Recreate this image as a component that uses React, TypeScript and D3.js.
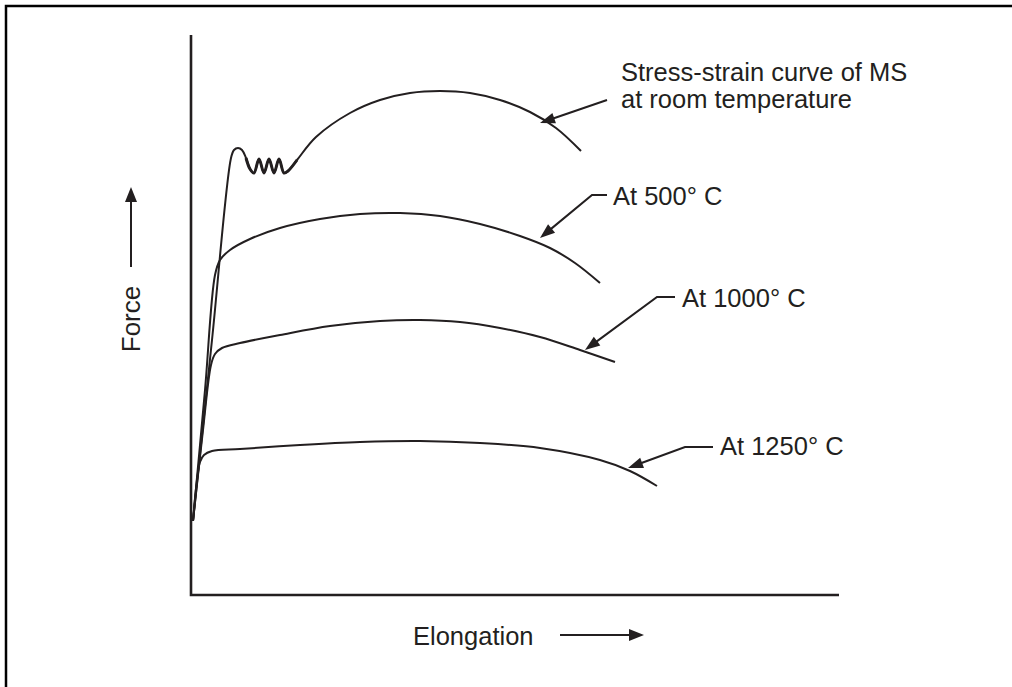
import React from "react";
import * as d3 from "d3";

// Data in chart units: x = elongation offset, y = force offset (arbitrary units)
type P = [number, number];

const roomTemp: P[] = [
  [2, 74], [21, 255], [40, 437], [43, 445], [47, 447], [51, 445], [55, 437], [59, 426],
  [63, 422], [68, 436], [73, 422], [78, 436], [83, 422], [88, 436], [93, 422], [97, 424],
  [106, 435], [125, 458], [159, 482], [189, 495], [219, 502], [249, 504], [279, 502],
  [309, 495], [339, 483], [365, 467], [390, 444],
];
// indices of the yield-point serration (drawn bolder)
const serrationRange: [number, number] = [6, 16];
const at500: P[] = [
  [2, 74], [14, 205], [24, 320], [29, 335], [39, 345], [59, 356], [89, 367], [129, 376],
  [169, 381], [209, 382], [249, 379], [289, 371], [329, 359], [359, 347], [384, 332], [409, 312],
];
const at1000: P[] = [
  [2, 74], [12, 165], [20, 230], [24, 241], [31, 247], [49, 252], [89, 260], [139, 269],
  [189, 274], [229, 275], [269, 273], [309, 267], [349, 258], [389, 245], [424, 233],
];
const at1250: P[] = [
  [2, 74], [6, 115], [9, 133], [13, 140], [21, 144], [49, 146], [109, 150], [169, 153],
  [229, 154], [289, 152], [349, 147], [409, 135], [439, 124], [466, 109],
];
const series = [roomTemp, at500, at1000, at1250];

// Annotations: label lines, label anchor, leader polyline (last point is the arrow tip)
const labelLines: string[][] = [
  ["Stress-strain curve of MS", "at room temperature"],
  ["At 500° C"],
  ["At 1000° C"],
  ["At 1250° C"],
];
const labelAnchors: P[] = [[430, 514], [422, 390], [491, 288], [529, 140]];
const leaders: P[][] = [
  [[416, 495], [349, 472]],
  [[416, 400], [401, 400], [349, 357]],
  [[484, 298], [466, 298], [394, 245]],
  [[522, 148], [494, 148], [437, 127]],
];

const W = 1012;
const H = 687;
const x = d3.scaleLinear().domain([0, 650]).range([191, 841]);
const y = d3.scaleLinear().domain([0, 560]).range([595, 35]);

const INK = "#231f20";

function arrowHead(from: [number, number], to: [number, number], len = 15, half = 5.5) {
  const dx = to[0] - from[0];
  const dy = to[1] - from[1];
  const d = Math.hypot(dx, dy) || 1;
  const ux = dx / d, uy = dy / d;
  const bx = to[0] - ux * len, by = to[1] - uy * len;
  const px = -uy * half, py = ux * half;
  return `M${to[0]},${to[1]}L${bx + px},${by + py}L${bx - px},${by - py}Z`;
}

export default function App() {
  const line = d3
    .line<P>()
    .x((d) => x(d[0]))
    .y((d) => y(d[1]))
    .curve(d3.curveCatmullRom.alpha(0.5));
  const straight = d3.line<[number, number]>();

  return (
    <svg
      width={W}
      height={H}
      style={{ position: "absolute", left: 0, top: 0, background: "#fff" }}
      fontFamily="'Liberation Sans', Arial, Helvetica, sans-serif"
    >
      {/* frame (top and left only, cropped) */}
      <path d={`M6,${H}L6,6L${W},6`} fill="none" stroke="#000" strokeWidth={2.5} />

      {/* axes */}
      <path d={`M${x(0)},${y(560)}L${x(0)},${y(0)}L${x(648)},${y(0)}`} fill="none" stroke={INK} strokeWidth={2.6} />

      {/* curves */}
      {series.map((s, i) => (
        <path key={i} d={line(s) || ""} fill="none" stroke={INK} strokeWidth={2} strokeLinejoin="round" />
      ))}
      <path
        d={line(roomTemp.slice(serrationRange[0], serrationRange[1] + 1)) || ""}
        fill="none"
        stroke={INK}
        strokeWidth={3}
        strokeLinejoin="round"
      />

      {/* leaders */}
      {leaders.map((pts, i) => {
        const px = pts.map((p) => [x(p[0]), y(p[1])] as [number, number]);
        const n = px.length;
        const tip = px[n - 1];
        const prev = px[n - 2];
        const dx = tip[0] - prev[0], dy = tip[1] - prev[1];
        const d = Math.hypot(dx, dy);
        const shaft = px.slice(0, n - 1).concat([[tip[0] - (dx / d) * 10, tip[1] - (dy / d) * 10]]);
        return (
          <g key={i}>
            <path d={straight(shaft) || ""} fill="none" stroke={INK} strokeWidth={2} />
            <path d={arrowHead(prev, tip)} fill={INK} />
          </g>
        );
      })}

      {/* labels */}
      {labelLines.map((lines, i) => (
        <text key={i} x={x(labelAnchors[i][0])} y={y(labelAnchors[i][1])} fontSize={25.5} fill={INK}>
          {lines.map((t, j) => (
            <tspan key={j} x={x(labelAnchors[i][0])} dy={j === 0 ? 0 : 27}>
              {t}
            </tspan>
          ))}
        </text>
      ))}

      {/* axis titles */}
      <text x={413} y={645} fontSize={25.5} fill={INK}>Elongation</text>
      <path d="M560,635L631,635" stroke={INK} strokeWidth={2} />
      <path d={arrowHead([560, 635], [644, 635], 15, 6)} fill={INK} />

      <text transform="translate(140,319) rotate(-90)" textAnchor="middle" fontSize={26} fill={INK}>Force</text>
      <path d="M131,267L131,200" stroke={INK} strokeWidth={2} />
      <path d={arrowHead([131, 267], [131, 187], 15, 6)} fill={INK} />
    </svg>
  );
}
